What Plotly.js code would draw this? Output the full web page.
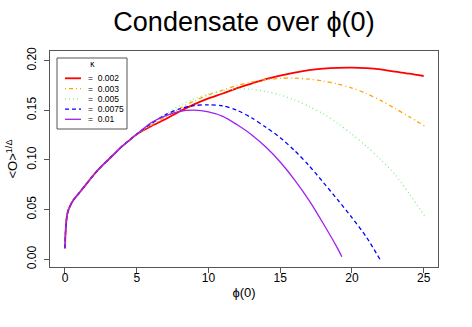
<!DOCTYPE html>
<html>
<head>
<meta charset="utf-8">
<script src="https://cdn.plot.ly/plotly-3.0.1.min.js"></script>
<style>
  html, body { margin: 0; padding: 0; background: #fff; }
  #chart { width: 472px; height: 327px; }
</style>
</head>
<body>
<div id="chart"></div>
<script>
// shared start of all curves (they coincide for small phi(0))
const phi_common = [0, 0.05, 0.15, 0.3, 0.6, 1.0, 1.5, 2.0, 2.5, 3.0, 3.5, 4.0, 4.5, 5.0];
const cond_common = [0.011, 0.030, 0.045, 0.052, 0.060, 0.067, 0.076, 0.085, 0.093, 0.100, 0.107, 0.114, 0.120, 0.126];

// kappa = 0.002
const phi_k002 = [6, 7, 8, 9, 10, 11, 12, 13, 14, 15, 16, 17, 18, 19, 20, 21, 22, 23, 24, 25];
const cond_k002 = [0.134, 0.141, 0.149, 0.156, 0.162, 0.167, 0.1725, 0.177, 0.1815, 0.185, 0.188, 0.1905, 0.192, 0.1928, 0.193, 0.1925, 0.1912, 0.189, 0.187, 0.1846];
// kappa = 0.003
const phi_k003 = [6, 7, 8, 9, 10, 11, 12, 13, 14, 15, 16, 17, 18, 19, 20, 21, 22, 23, 24, 25.1];
const cond_k003 = [0.135, 0.1435, 0.152, 0.1595, 0.1655, 0.1705, 0.175, 0.1785, 0.181, 0.1822, 0.1825, 0.1815, 0.1795, 0.1765, 0.1725, 0.167, 0.160, 0.152, 0.1435, 0.134];
// kappa = 0.005
const phi_k005 = [6, 7, 8, 9, 10, 11, 12, 13, 14, 15, 16, 17, 18, 19, 20, 21, 22, 23, 24, 25.1];
const cond_k005 = [0.1365, 0.146, 0.155, 0.1615, 0.1665, 0.1697, 0.1715, 0.1712, 0.169, 0.1655, 0.1605, 0.154, 0.1465, 0.137, 0.126, 0.114, 0.1005, 0.0855, 0.066, 0.043];
// kappa = 0.0075
const phi_k0075 = [6, 7, 8, 9, 10, 11, 12, 13, 14, 15, 16, 17, 18, 19, 20, 21, 21.95];
const cond_k0075 = [0.1365, 0.1455, 0.1515, 0.1548, 0.1556, 0.1545, 0.150, 0.1425, 0.133, 0.1225, 0.1095, 0.0945, 0.0775, 0.060, 0.042, 0.0225, 0.0];
// kappa = 0.01
const phi_k01 = [6, 7, 8, 9, 10, 11, 12, 13, 14, 15, 16, 17, 18, 19, 19.3];
const cond_k01 = [0.1375, 0.1445, 0.149, 0.1503, 0.1485, 0.144, 0.1355, 0.1255, 0.113, 0.098, 0.080, 0.0595, 0.036, 0.011, 0.0026];

const kappas = ["0.002", "0.003", "0.005", "0.0075", "0.01"];
const colors = ["#ff0000", "#ffa500", "#7ff07f", "#0000ff", "#a020f0"];
const dashes = ["solid", "1px,3px,4px,3px", "1px,3px", "4px,3px", "solid"];
const widths = [1.8, 1.3, 1.3, 1.3, 1.3];

const phis = [phi_k002, phi_k003, phi_k005, phi_k0075, phi_k01];
const conds = [cond_k002, cond_k003, cond_k005, cond_k0075, cond_k01];

const FONT = "Liberation Sans, Arial, Helvetica, sans-serif";

const data = kappas.map((k, i) => ({
    name: "= " + k,
    x: phi_common.concat(phis[i]),
    y: cond_common.concat(conds[i]),
    mode: "lines",
    type: "scatter",
    line: { color: colors[i], dash: dashes[i], width: widths[i], shape: "spline", smoothing: 0.8 },
    showlegend: false,
}));

// hand-made legend box (R style, compact rows)
const L = 50, T = 51, W = 388, H = 216;
const px = (X) => (X - L) / W;
const py = (Y) => (T + H - Y) / H;

const shapes = [{
    type: "rect", xref: "paper", yref: "paper",
    x0: px(57), x1: px(127), y0: py(129), y1: py(58),
    line: { color: "#555", width: 1 }, fillcolor: "white", layer: "above",
}];
const annotations = [{
    xref: "paper", yref: "paper", x: px(92), y: py(65), text: "κ",
    showarrow: false, font: { family: "DejaVu Sans, sans-serif", size: 8, color: "#000" },
    xanchor: "center", yanchor: "middle",
}];
kappas.forEach((k, i) => {
    const rowY = 78.3 + i * 10.25;
    shapes.push({
        type: "line", xref: "paper", yref: "paper",
        x0: px(65), x1: px(81), y0: py(rowY), y1: py(rowY),
        line: { color: colors[i], dash: dashes[i], width: widths[i] }, layer: "above",
    });
    annotations.push({
        xref: "paper", yref: "paper", x: px(86), y: py(rowY), text: "=  " + k,
        showarrow: false, font: { family: FONT, size: 8.5, color: "#000" },
        xanchor: "left", yanchor: "middle",
    });
});

const layout = {
    width: 472,
    height: 327,
    margin: { l: 50, r: 34, t: 51, b: 60 },
    paper_bgcolor: "white",
    plot_bgcolor: "white",
    font: { family: FONT, color: "#000" },
    title: {
        text: "Condensate over ϕ(0)",
        font: { family: FONT, size: 27, color: "#000" },
        xref: "paper", x: 0.5, xanchor: "center",
        yref: "container", y: 0.933, yanchor: "middle",
    },
    xaxis: {
        title: { text: "ϕ(0)", font: { size: 13 }, standoff: 3 },
        range: [-1.045, 26.0],
        tickvals: [0, 5, 10, 15, 20, 25],
        ticks: "outside", ticklen: 5, tickcolor: "#555",
        ticklabelstandoff: -5,
        tickfont: { size: 12 },
        showgrid: false, zeroline: false,
        showline: true, mirror: true, linecolor: "#555", linewidth: 1,
    },
    yaxis: {
        title: { text: "&lt;O&gt;<sup>1/Δ</sup>", font: { size: 13 }, standoff: 4 },
        range: [-0.0078, 0.2098],
        tickvals: [0, 0.05, 0.10, 0.15, 0.20],
        tickformat: ".2f",
        tickangle: -90,
        ticks: "outside", ticklen: 5, tickcolor: "#555",
        ticklabelstandoff: 3,
        tickfont: { size: 12 },
        showgrid: false, zeroline: false,
        showline: true, mirror: true, linecolor: "#555", linewidth: 1,
    },
    shapes,
    annotations,
};

Plotly.newPlot("chart", data, layout, { displayModeBar: false, staticPlot: true });
</script>
</body>
</html>
